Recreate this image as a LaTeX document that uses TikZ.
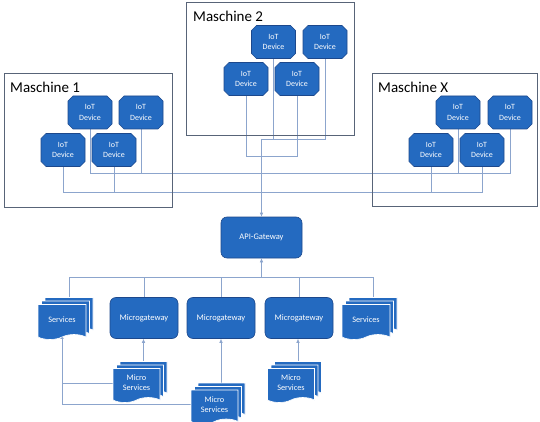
\documentclass[tikz,border=0pt]{standalone}
\usepackage{fontspec}
\setmainfont{Carlito}
\usetikzlibrary{shapes.misc,shapes.symbols,shadows,arrows.meta,backgrounds,calc}
\definecolor{devblue}{RGB}{36,106,192}
\definecolor{devedge}{RGB}{28,72,140}
\definecolor{wireblue}{RGB}{140,165,205}
\definecolor{boxgray}{RGB}{88,100,120}
\tikzset{
  machine/.style={draw=boxgray, line width=0.8pt},
  machinelabel/.style={anchor=west, inner sep=0pt, font=\fontsize{15}{18}\selectfont},
  device/.style={chamfered rectangle, chamfered rectangle xsep=2.5pt,
    chamfered rectangle ysep=2.5pt, fill=devblue, draw=devedge, line width=0.6pt,
    minimum width=44pt, minimum height=33pt, inner sep=0pt, text=white,
    align=center, font=\fontsize{8}{10.5}\selectfont},
  gate/.style={rectangle, rounded corners=6pt, fill=devblue, draw=devedge,
    line width=0.6pt, minimum height=41pt, inner sep=0pt, text=white,
    font=\fontsize{8.5}{10}\selectfont},
  docstack/.style={tape, tape bend top=none, tape bend bottom=in and out,
    tape bend height=5pt, fill=devblue, draw=white, line width=0.6pt,
    minimum width=48pt, minimum height=35pt, inner sep=0pt, text=white,
    align=center, font=\fontsize{8.3}{10}\selectfont,
    double copy shadow={shadow xshift=3.5pt, shadow yshift=3.5pt, fill=devblue, draw=white}},
  wire/.style={draw=wireblue, line width=0.6pt},
  arrow/.style={wire, -{Latex[length=4pt,width=3.5pt]}}
}
\begin{document}
\begin{tikzpicture}[x=1pt,y=-1pt]
\useasboundingbox (0,0) rectangle (540,422);
% machines
\draw[machine] (4,73) rectangle (172,207);
\draw[machine] (186,2) rectangle (354,135);
\draw[machine] (372,73) rectangle (537,206);
\node[machinelabel] (lab1) at (10,87) {Maschine 1};
\node[machinelabel] (lab2) at (193,16) {Maschine 2};
\node[machinelabel] (labX) at (378,87) {Maschine X};
%
\node[device] (m1tl) at (90,112.5) {IoT\\Device};
\node[device] (m1tr) at (141,112.5) {IoT\\Device};
\node[device] (m1bl) at (63,150) {IoT\\Device};
\node[device] (m1br) at (114,150) {IoT\\Device};
%
\node[device] (m2tl) at (273.5,42) {IoT\\Device};
\node[device] (m2tr) at (325,42) {IoT\\Device};
\node[device] (m2bl) at (246,79) {IoT\\Device};
\node[device] (m2br) at (297,79) {IoT\\Device};
%
\node[device] (mxtl) at (458,112.5) {IoT\\Device};
\node[device] (mxtr) at (510,112.5) {IoT\\Device};
\node[device] (mxbl) at (431,150) {IoT\\Device};
\node[device] (mxbr) at (482,150) {IoT\\Device};
% gateways and services
\node[gate, minimum width=81pt] (api) at (261.5,237.5) {API-Gateway};
\node[gate, minimum width=68pt] (mg1) at (144,318) {Microgateway};
\node[gate, minimum width=68pt] (mg2) at (221,318) {Microgateway};
\node[gate, minimum width=68pt] (mg3) at (299,318) {Microgateway};
\node[docstack] (svcl) at (62,319.5) {Services};
\node[docstack] (svcr) at (366,319.5) {Services};
\node[docstack, minimum width=47pt, minimum height=34pt] (ms1) at (136.5,383) {Micro\\Services};
\node[docstack, minimum width=47pt, minimum height=34pt] (ms2) at (214.5,404.5) {Micro\\Services};
\node[docstack, minimum width=47pt, minimum height=34pt] (ms3) at (291,383) {Micro\\Services};
%
\coordinate (bus1) at (0,173);
\coordinate (bus2) at (0,192);
\coordinate (bus3) at (0,139);
\coordinate (bus4) at (0,156);
\coordinate (bus5) at (0,277);
\coordinate (feed) at (api.north |- bus3);
\coordinate (svclt) at ($(svcl.north)+(7,0)$);
\coordinate (svcrt) at ($(svcr.north)+(7,0)$);
\coordinate (ms1t) at ($(ms1.north)+(7,0)$);
\coordinate (ms2t) at ($(ms2.north)+(6.5,0)$);
\coordinate (ms3t) at ($(ms3.north)+(7,0)$);
%
\begin{scope}[on background layer]
\draw[wire] (m1tl.south) |- (mxtr.south |- bus1) -- (mxtr.south);
\draw[wire] (m1tr.south) -- (m1tr.south |- bus1);
\draw[wire] (mxtl.south) -- (mxtl.south |- bus1);
\draw[wire] (m1bl.south) |- (mxbr.south |- bus2) -- (mxbr.south);
\draw[wire] (m1br.south) -- (m1br.south |- bus2);
\draw[wire] (mxbl.south) -- (mxbl.south |- bus2);
%
\draw[wire] (m2tl.south) -- (m2tl.south |- bus3);
\draw[wire] (feed) -| (m2tr.south);
\draw[wire] (m2bl.south) |- (m2br.south |- bus4) -- (m2br.south);
\draw[arrow] (feed) -- (api.north);
%
\draw[wire] (svclt) -- (svclt |- bus5) -- (svcrt |- bus5) -- (svcrt);
\draw[wire] (mg1.north) -- (mg1.north |- bus5);
\draw[wire] (mg2.north) -- (mg2.north |- bus5);
\draw[wire] (mg3.north) -- (mg3.north |- bus5);
\draw[arrow] (api.south |- bus5) -- (api.south);
%
\draw[arrow] (ms1t) -- (ms1t |- mg1.south);
\draw[arrow] (ms2t) -- (ms2t |- mg2.south);
\draw[arrow] (ms3t) -- (ms3t |- mg3.south);
\draw[wire] (ms1.west) -- (ms1.west -| svcl.south);
\draw[arrow] (ms2.west) -| (svcl.south);
\end{scope}
\end{tikzpicture}
\end{document}
